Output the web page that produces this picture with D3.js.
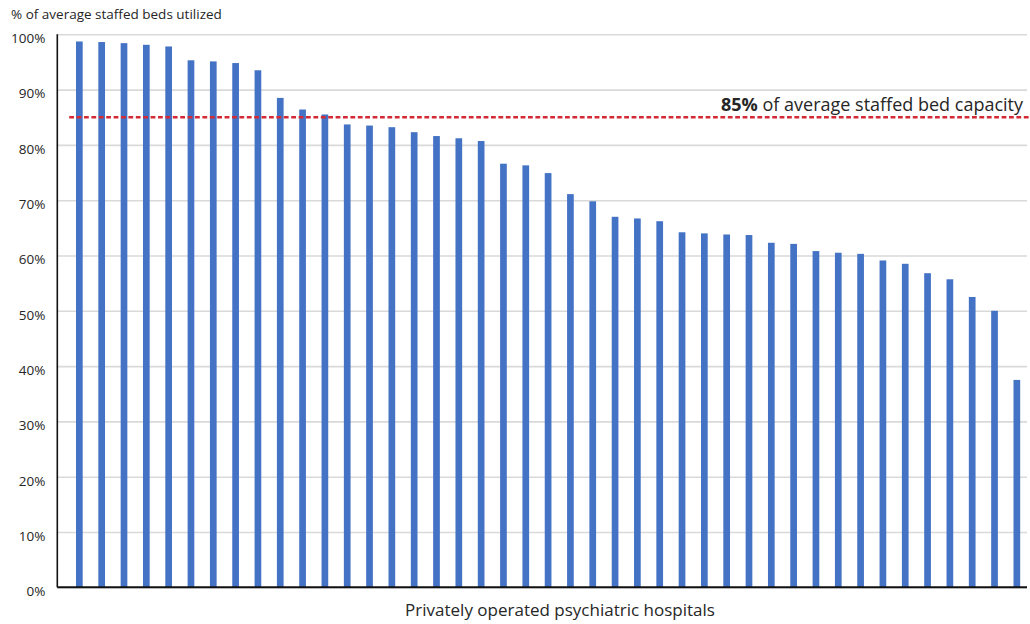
<!DOCTYPE html>
<html lang="en">
<head>
    <meta charset="UTF-8">
    <title>Psychiatric hospital bed utilization</title>
    <style>
        body { margin: 0; background: #fff; }
        text { font-family: "Open Sans", sans-serif; fill: #262626; }
    </style>
</head>
<body>
    <svg id="svg" width="1030" height="624"></svg>

    <script src="https://d3js.org/d3.v7.min.js"></script>
    <script>
        // one bar per hospital, sorted high to low (% of average staffed beds used)
        const hospitals = d3.range(1, 44).map(i => "H" + i)
        const utilization = [
            98.7, 98.6, 98.4, 98.1, 97.8, 95.3, 95.1, 94.8, 93.5, 88.5,
            86.4, 85.5, 83.7, 83.5, 83.2, 82.3, 81.6, 81.2, 80.7, 76.6,
            76.3, 74.9, 71.1, 69.8, 67.0, 66.7, 66.2, 64.2, 64.0, 63.8,
            63.7, 62.3, 62.1, 60.8, 60.5, 60.3, 59.1, 58.5, 56.8, 55.7,
            52.5, 50.0, 37.5
        ]
        const yTicks = [0, 10, 20, 30, 40, 50, 60, 70, 80, 90, 100]
        const threshold = 85

        const data = hospitals.map((h, i) => ({ name: h, value: utilization[i] }))

        const width = 1030
        const plotLeft = 57.3
        const plotRight = 1027
        const plotTop = 34.3
        const plotBottom = 587.3

        const svg = d3.select("#svg")

        // x scale - the bars start a little right of the axis like in excel
        const xscale = d3.scaleBand()
            .domain(hospitals)
            .range([68.2, 1028])
            .paddingInner(0.7)
            .paddingOuter(0.35)

        const yscale = d3.scaleLinear()
            .domain([0, 100])
            .range([plotBottom, plotTop])

        // gridlines
        const grid = svg.append('g')
            .attr('transform', `translate(${plotLeft}, 0)`)
            .call(d3.axisLeft(yscale)
                .tickValues(yTicks)
                .tickSize(-(plotRight - plotLeft))
                .tickFormat(""))
        grid.select('.domain').remove()
        grid.selectAll('line')
            .attr('stroke', '#d9d9d9')
            .attr('stroke-width', 1.6)

        // y tick labels
        const yAxis = svg.append('g')
            .attr('transform', `translate(${plotLeft}, 0)`)
            .call(d3.axisLeft(yscale)
                .tickValues(yTicks)
                .tickSize(0)
                .tickPadding(12)
                .tickFormat(d => d + "%"))
        yAxis.select('.domain').remove()
        yAxis.selectAll('text')
            .attr('dy', '0.62em')
            .style('font-size', '13.5px')
            .style('font-family', '"Open Sans", sans-serif')
            .attr('fill', '#262626')

        // bars
        svg.append('g')
            .selectAll('rect')
            .data(data)
            .enter()
            .append('rect')
            .attr('x', d => xscale(d.name))
            .attr('y', d => yscale(d.value))
            .attr('width', xscale.bandwidth())
            .attr('height', d => yscale(0) - yscale(d.value))
            .attr('fill', '#4472c4')

        // axis lines
        svg.append('line')
            .attr('x1', plotLeft).attr('x2', plotLeft)
            .attr('y1', plotTop).attr('y2', plotBottom)
            .attr('stroke', '#111')
            .attr('stroke-width', 1.6)
        svg.append('line')
            .attr('x1', plotLeft).attr('x2', plotRight)
            .attr('y1', plotBottom).attr('y2', plotBottom)
            .attr('stroke', '#111')
            .attr('stroke-width', 2)

        // 85% reference line
        svg.append('line')
            .attr('x1', xscale.range()[0] + 1)
            .attr('x2', width)
            .attr('y1', yscale(threshold))
            .attr('y2', yscale(threshold))
            .attr('stroke', '#d42a35')
            .attr('stroke-width', 2.6)
            .attr('stroke-dasharray', '4.8,2.6')

        const note = svg.append('text')
            .attr('x', 1023)
            .attr('y', 111)
            .attr('text-anchor', 'end')
            .style('font-size', '18px')
        note.append('tspan').attr('font-weight', 'bold').text(threshold + "%")
        note.append('tspan').text(" of average staffed bed capacity")

        // titles
        svg.append('text')
            .attr('x', 11)
            .attr('y', 18.5)
            .style('font-size', '13.5px')
            .text("% of average staffed beds utilized")

        svg.append('text')
            .attr('x', 560)
            .attr('y', 616)
            .attr('text-anchor', 'middle')
            .style('font-size', '17px')
            .text("Privately operated psychiatric hospitals")
    </script>
</body>
</html>
